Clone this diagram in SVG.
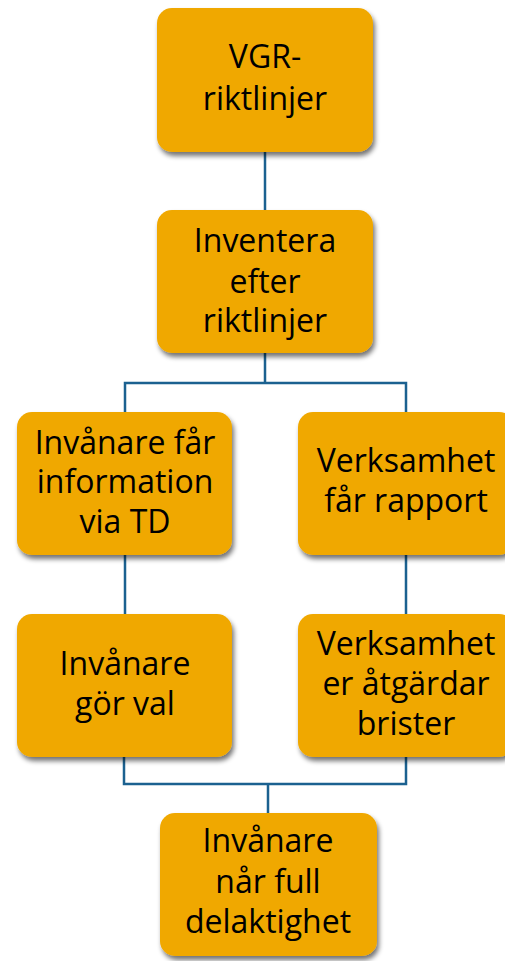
<svg xmlns="http://www.w3.org/2000/svg" width="505" height="961" viewBox="0 0 505 961">
<defs>
<filter id="sh" x="-10%" y="-10%" width="130%" height="130%">
<feGaussianBlur in="SourceAlpha" stdDeviation="2.5"/>
<feOffset dx="2" dy="4" result="b"/>
<feComponentTransfer><feFuncA type="linear" slope="0.55"/></feComponentTransfer>
<feMerge><feMergeNode/><feMergeNode in="SourceGraphic"/></feMerge>
</filter>
</defs>
<style>
.box{fill:#F0A800;filter:url(#sh)}
.t{font-family:"Open Sans","DejaVu Sans",sans-serif;font-size:32px;fill:#000;text-anchor:middle}
.c{fill:none;stroke:#1B6190;stroke-width:2.5}
</style>
<rect width="505" height="961" fill="#fff"/>
<g id="connectors">
<path class="c" d="M265 152V210"/>
<path class="c" d="M265 353V383M125 412V383H406V412"/>
<path class="c" d="M125 555V614M406 555V614"/>
<path class="c" d="M124 757V784H406V757M268 784V813"/>
</g>
<g id="n1"><rect class="box" x="157" y="8" width="216" height="144" rx="15"/>
<text class="t" x="265" y="68">VGR-</text><text class="t" x="265" y="110">riktlinjer</text></g>
<g id="n2"><rect class="box" x="157" y="210" width="216" height="143" rx="15"/>
<text class="t" x="265" y="252">Inventera</text><text class="t" x="265" y="293">efter</text><text class="t" x="265" y="332">riktlinjer</text></g>
<g id="n3"><rect class="box" x="17" y="412" width="215" height="143" rx="15"/>
<text class="t" x="125" y="454">Invånare får</text><text class="t" x="125" y="493">information</text><text class="t" x="125" y="533">via TD</text></g>
<g id="n4"><rect class="box" x="298" y="412" width="216" height="143" rx="15"/>
<text class="t" x="406" y="472">Verksamhet</text><text class="t" x="406" y="512">får rapport</text></g>
<g id="n5"><rect class="box" x="17" y="614" width="215" height="143" rx="15"/>
<text class="t" x="125" y="675">Invånare</text><text class="t" x="125" y="715">gör val</text></g>
<g id="n6"><rect class="box" x="298" y="614" width="216" height="143" rx="15"/>
<text class="t" x="406" y="655">Verksamhet</text><text class="t" x="406" y="695">er åtgärdar</text><text class="t" x="406" y="735">brister</text></g>
<g id="n7"><rect class="box" x="160" y="813" width="217" height="143" rx="15"/>
<text class="t" x="268" y="852">Invånare</text><text class="t" x="268" y="893">når full</text><text class="t" x="268" y="933">delaktighet</text></g>
</svg>
